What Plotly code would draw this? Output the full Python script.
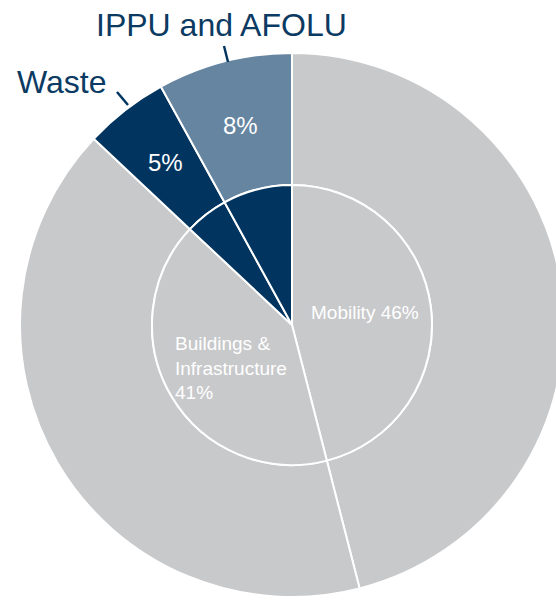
import math
import plotly.graph_objects as go

# Emission shares by sector (percent)
sectors = ["Mobility", "Buildings & Infrastructure", "Waste", "IPPU and AFOLU"]
shares = [46, 41, 5, 8]

GREY = "#C8C9CB"
NAVY = "#01355F"
STEEL = "#6685A0"
LABEL = "#0B3A62"

outer_colors = [GREY, GREY, NAVY, STEEL]
inner_colors = [GREY, GREY, NAVY, NAVY]

# Canvas geometry (pixels)
W, H = 584, 600
CX, CY = 292, 325
R_OUT, R_IN = 272, 140


def px(x):
    return x / W


def py(y):
    return 1 - y / H


def domain(r):
    return dict(x=[px(CX - r), px(CX + r)], y=[py(CY + r), py(CY - r)])


def slice_mid(i, r):
    """Pixel position at radius r along the middle of slice i (clockwise from 12 o'clock)."""
    total = sum(shares)
    frac = (sum(shares[:i]) + shares[i] / 2) / total
    ang = frac * 2 * math.pi
    return CX + r * math.sin(ang), CY - r * math.cos(ang)


fig = go.Figure()

fig.add_trace(go.Pie(
    labels=sectors,
    values=shares,
    sort=False,
    direction="clockwise",
    rotation=0,
    hole=R_IN / R_OUT,
    domain=domain(R_OUT),
    marker=dict(colors=outer_colors, line=dict(color="white", width=2)),
    textinfo="none",
    hoverinfo="label+percent",
    showlegend=False,
))

fig.add_trace(go.Pie(
    labels=sectors,
    values=shares,
    sort=False,
    direction="clockwise",
    rotation=0,
    domain=domain(R_IN),
    marker=dict(colors=inner_colors, line=dict(color="white", width=2)),
    textinfo="none",
    hoverinfo="label+percent",
    showlegend=False,
))

font_big = dict(family="Liberation Sans, Arial", size=32, color=LABEL)
font_pct = dict(family="Liberation Sans, Arial", size=24, color="white")
font_small = dict(family="Liberation Sans, Arial", size=19, color="white")

annotations = [
    dict(x=px(221), y=py(25), text=sectors[3], font=font_big,
         xanchor="center", yanchor="middle"),
    dict(x=px(62), y=py(82), text=sectors[2], font=font_big,
         xanchor="center", yanchor="middle"),
    dict(x=px(309), y=py(313), text=f"{sectors[0]} {shares[0]}%", font=font_small,
         xanchor="left", yanchor="middle"),
    dict(x=px(173), y=py(331),
         text="Buildings &amp;<br>Infrastructure<br>" + f"{shares[1]}%",
         font=font_small, xanchor="left", yanchor="top", align="left"),
]

# Percentages centred in the middle of the ring for the two small sectors
r_mid = (R_IN + R_OUT) / 2
for i in (2, 3):
    mx, my = slice_mid(i, r_mid)
    annotations.append(dict(x=px(mx), y=py(my), text=f"{shares[i]}%", font=font_pct,
                            xanchor="center", yanchor="middle"))

for a in annotations:
    a.update(xref="paper", yref="paper", showarrow=False)

# Short leader lines from the outer labels to their slices
leaders = [((224, 46), (228, 62)), ((117, 92), (128, 105))]
shapes = [
    dict(type="line", xref="paper", yref="paper",
         x0=px(a[0]), y0=py(a[1]), x1=px(b[0]), y1=py(b[1]),
         line=dict(color=NAVY, width=2.5))
    for a, b in leaders
]

fig.update_layout(
    width=W,
    height=H,
    margin=dict(l=0, r=0, t=0, b=0),
    paper_bgcolor="white",
    plot_bgcolor="white",
    annotations=annotations,
    shapes=shapes,
)

fig.write_html(
    "out.html",
    post_script="document.documentElement.style.overflow='hidden';"
                "document.body.style.overflow='hidden';document.body.style.margin='0';",
)
